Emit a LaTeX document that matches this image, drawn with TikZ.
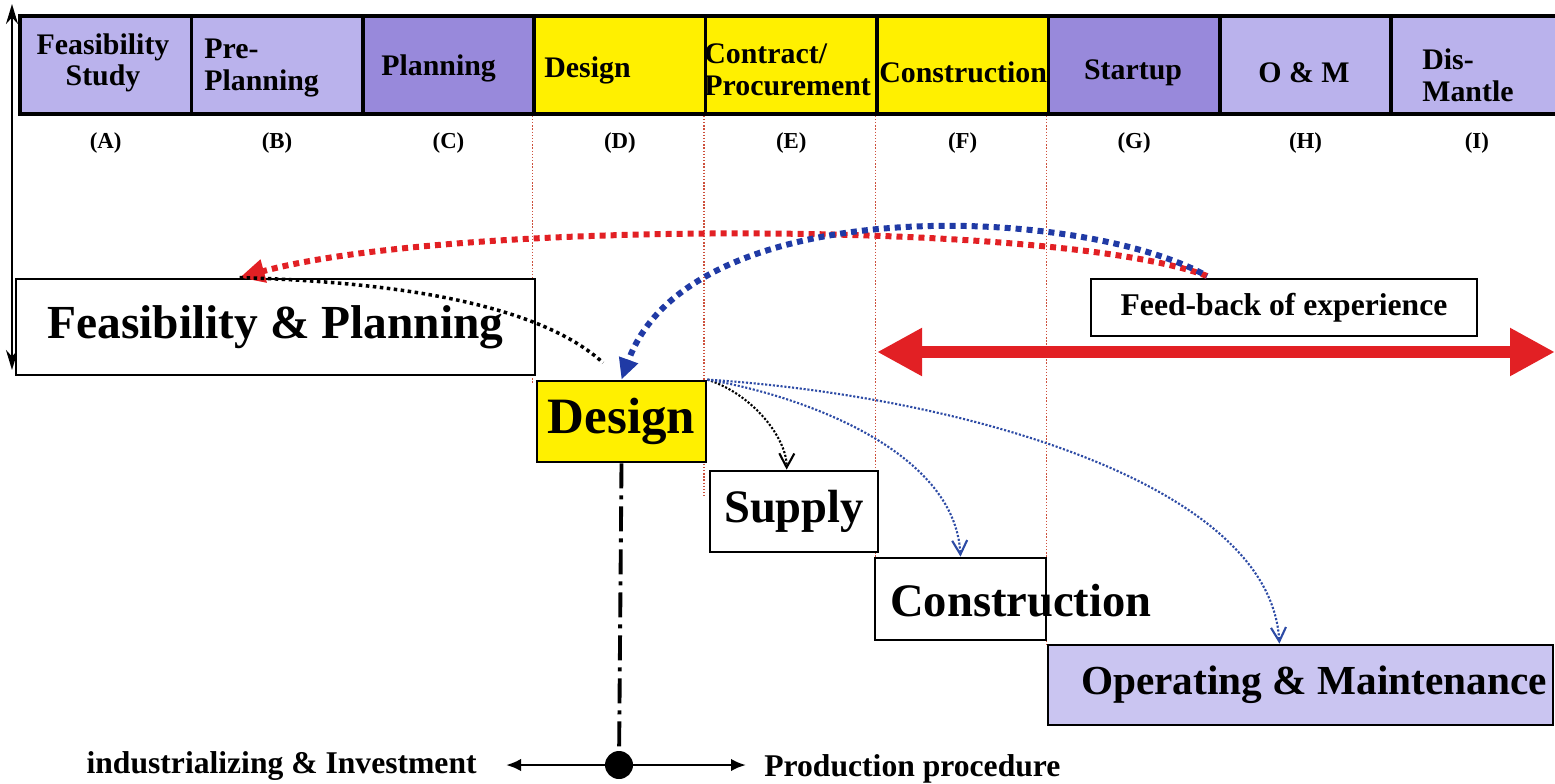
\documentclass[tikz,border=0pt]{standalone}
\usepackage{fontspec}
\setmainfont{Liberation Serif}
\usetikzlibrary{arrows.meta,positioning}

\definecolor{phaselight}{RGB}{186,178,236}
\definecolor{phasedark}{RGB}{152,137,219}
\definecolor{phaseyellow}{RGB}{255,240,0}
\definecolor{omfill}{RGB}{202,197,241}
\definecolor{fbred}{RGB}{226,32,36}
\definecolor{fbblue}{RGB}{32,58,165}
\definecolor{guidered}{RGB}{205,80,60}
\definecolor{fanblue}{RGB}{45,75,165}

\tikzset{
  phase/.style={draw, line width=0.07cm, minimum width=3.428cm, minimum height=1.96cm, inner sep=0pt},
  phasetext/.style={font=\fontsize{17}{18}\selectfont\bfseries, inner sep=0pt},
  stage/.style={draw, fill=white, line width=0.055cm, inner sep=0pt},
  caption/.style={font=\fontsize{18}{20}\selectfont\bfseries, inner sep=0pt},
  guide/.style={draw=guidered, line width=0.8pt, densely dotted},
  feedline/.style={line width=0.12cm, dash pattern=on 0.12cm off 0.1cm},
  fanline/.style={line width=1.2pt, densely dotted},
}

\begin{document}
\begin{tikzpicture}[x=0.02cm, y=-0.02cm]
  \useasboundingbox (0,0) rectangle (1555,784);

  % phases along the top
  \foreach \col [count=\n] in {phaselight,phaselight,phasedark,phaseyellow,phaseyellow,phaseyellow,phasedark,phaselight,phaselight}
    \node[phase, fill=\col] (c\n) at ({20+171.4*(\n-0.5)},65) {};
  \foreach \l [count=\n] in {A,B,C,D,E,F,G,H,I}
    \node[font=\fontsize{13}{14}\selectfont\bfseries] (l\n) at ({20+171.4*(\n-0.5)},143) {(\l)};

  \node[phasetext, align=center] (t1) at (103,63) {Feasibility\\Study};
  \node[phasetext, align=left, anchor=west] (t2) at (204,68) {Pre-\\Planning};
  \node[phasetext, anchor=west] (t3) at (381,68) {Planning};
  \node[phasetext, anchor=west] (t4) at (544,70) {Design};
  \node[phasetext, align=left, anchor=west] (t5) at (704,70) {Contract/\\Procurement};
  \node[phasetext, anchor=west] (t6) at (879,72) {Construction};
  \node[phasetext] (t7) at (1133,73) {Startup};
  \node[phasetext] (t8) at (1304,73) {O \& M};
  \node[phasetext, align=left, anchor=west] (t9) at (1422,75) {Dis-\\Mantle};

  % time axis on the left
  \coordinate (axtop) at (12,4);
  \coordinate (axbot) at (12,370);
  \draw[line width=1.1pt, {Stealth[length=0.4cm,width=0.24cm]}-{Stealth[length=0.4cm,width=0.24cm]}] (axtop) -- (axbot);

  % guides below the phase borders
  \draw[guide] (c4.south west) -- ++(0,267);
  \draw[guide] (c5.south west) -- ++(0,380);
  \draw[guide] (c6.south west) -- ++(0,465);
  \draw[guide] (c7.south west) -- ++(0,531);

  % stages
  \node[stage, minimum width=10.38cm, minimum height=1.92cm, font=\fontsize{27}{28}\selectfont\bfseries] (fp) at (275.5,327) {Feasibility \& Planning};
  \node[stage, fill=phaseyellow, minimum width=3.38cm, minimum height=1.62cm, font=\fontsize{29}{30}\selectfont\bfseries] (design) at (621.5,421.5) {Design};
  \node[stage, minimum width=3.36cm, minimum height=1.62cm, font=\fontsize{26.5}{28}\selectfont\bfseries] (supply) at (794,511.5) {Supply};
  \node[stage, minimum width=3.42cm, minimum height=1.64cm] (constr) at (960.5,599) {};
  \node[font=\fontsize{26.5}{28}\selectfont\bfseries, inner sep=0pt, anchor=west] (constrtxt) at (890,601) {Construction};
  \node[stage, fill=omfill, minimum width=10.1cm, minimum height=1.6cm] (om) at (1300.5,685) {};
  \node[font=\fontsize{23.5}{25}\selectfont\bfseries, inner sep=0pt] (omtxt) at (1314,685) {Operating \& Maintenance};
  \node[stage, line width=0.04cm, minimum width=7.72cm, minimum height=1.14cm, font=\fontsize{18}{20}\selectfont\bfseries] (feedback) at (1284,307.5) {Feed-back of experience};

  % span of experience
  \coordinate (dl) at (877,352);
  \coordinate (dr) at (1555,352);
  \draw[fbred, line width=0.24cm, {Triangle[length=0.9cm,width=0.9cm]}-{Triangle[length=0.9cm,width=0.9cm]}] (dl) -- (dr);

  % feed-back loops
  \coordinate (fbk) at (1207,276);
  \draw[feedline, fbred, -{Triangle[length=0.5cm,width=0.45cm]}] (fbk) .. controls (1060,220) and (450,220) .. (fp.126);
  \draw[feedline, fbblue, dash phase=0.11cm, -{Triangle[length=0.42cm,width=0.38cm]}] (fbk) .. controls (1080,205) and (690,190) .. (design.north);
  \draw[line width=2pt, dotted, shorten >=0.5cm] (fp.126) .. controls (400,282) and (540,305) .. (design.north);

  % design feeds the later stages
  \draw[fanline, -{Straight Barb[length=0.28cm,width=0.3cm]}] (design.north east) .. controls (755,395) and (787,440) .. (supply.100);
  \draw[fanline, fanblue, -{Straight Barb[length=0.28cm,width=0.3cm]}] (design.north east) .. controls (800,395) and (955,450) .. (constr.north);
  \draw[fanline, fanblue, -{Straight Barb[length=0.28cm,width=0.3cm]}] (design.north east) .. controls (950,395) and (1270,480) .. (om.117);

  % investment / production split
  \node[circle, fill, inner sep=0pt, minimum size=0.56cm] (dot) at (619,765) {};
  \draw[line width=2.2pt, dash pattern=on 0.5cm off 0.14cm on 0.08cm off 0.14cm] (design.south) -- (dot);
  \coordinate (il) at (506,765);
  \coordinate (pr) at (746,765);
  \draw[line width=1.5pt, -{Latex[length=0.3cm,width=0.25cm]}] (dot) -- (il);
  \draw[line width=1.5pt, -{Latex[length=0.3cm,width=0.25cm]}] (dot) -- (pr);
  \node[caption, anchor=east] (invest) at (477,766) {industrializing \& Investment};
  \node[caption, anchor=west] (prod) at (764,769) {Production procedure};
\end{tikzpicture}
\end{document}
